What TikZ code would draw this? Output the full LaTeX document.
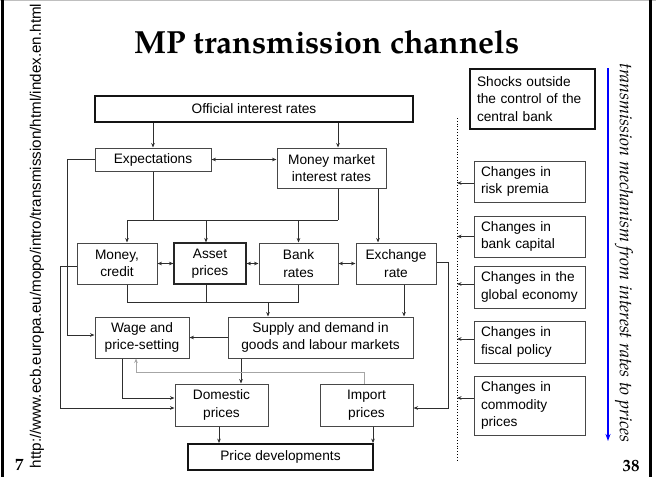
\documentclass[tikz,border=0pt]{standalone}
\usepackage{fontspec}
\setsansfont{Liberation Sans}
\newfontfamily\palfont{TeX Gyre Pagella}
\usetikzlibrary{arrows.meta}
\begin{document}
\begin{tikzpicture}[x=1pt,y=-1pt,
  box/.style={draw=black!72, line width=1pt, font=\sffamily\fontsize{13.7}{17.5}\selectfont, align=center, inner sep=0pt, fill=white},
  tbox/.style={box, draw=black!92, line width=1.8pt},
  rbox/.style={box, align=left, inner xsep=7pt},
  ln/.style={draw=black!82, line width=0.9pt},
  arr/.style={ln, -{Stealth[length=4.5pt,width=3.6pt]}},
  darr/.style={ln, {Stealth[length=4.5pt,width=3.6pt]}-{Stealth[length=4.5pt,width=3.6pt]}},
  arrg/.style={draw=black!35, line width=0.8pt, -{Stealth[length=4.5pt,width=3.6pt]}}]
\useasboundingbox (0,0) rectangle (656,477);
% frame
\draw[black!25, line width=0.6pt] (0,0.5) -- (656,0.5);
\draw[black, line width=3pt] (2,0) -- (2,477);
\draw[black, line width=3pt] (650.5,0) -- (650.5,477);
% title
\node[font=\palfont\bfseries\fontsize{32}{36}\selectfont] (title) at (327,42) {MP transmission channels};
% side texts
\node[rotate=90, font=\sffamily\fontsize{15.2}{16}\selectfont, inner sep=0pt] (url) at (37,236) {http://www.ecb.europa.eu/mopo/intro/transmission/html/index.en.html};
\node[font=\palfont\bfseries\fontsize{17}{18}\selectfont, inner sep=0pt] (pn) at (19.5,465) {7};
\node[font=\palfont\bfseries\fontsize{17}{18}\selectfont, inner sep=0pt] (pn2) at (631,466) {38};
\node[rotate=-90, font=\palfont\itshape\fontsize{18}{20}\selectfont, inner sep=0pt] (mech) at (624,253) {transmission mechanism from interest rates to prices};
% main boxes
\node[tbox, minimum width=318pt, minimum height=26pt] (off) at (254,109) {Official interest rates};
\node[box, minimum width=116pt, minimum height=23pt] (exp) at (153,159.5) {Expectations};
\node[box, minimum width=109pt, minimum height=40pt] (mm) at (331.5,168) {Money market\\interest rates};
\node[box, minimum width=80pt, minimum height=41pt] (money) at (117,263.5) {Money,\\credit};
\node[box, line width=1.2pt, draw=black!85, minimum width=72pt, minimum height=41pt] (asset) at (210,263.5) {Asset\\prices};
\node[box, minimum width=79pt, minimum height=41pt] (bank) at (298.5,263.5) {Bank\\rates};
\node[box, minimum width=80pt, minimum height=41pt] (exch) at (396,263.5) {Exchange\\rate};
\node[box, minimum width=94pt, minimum height=41pt] (wage) at (142,337.5) {Wage and\\price-setting};
\node[box, minimum width=185pt, minimum height=41pt] (supply) at (320.5,337.5) {Supply and demand in\\goods and labour markets};
\node[box, minimum width=93pt, minimum height=42pt] (dom) at (221.5,405) {Domestic\\prices};
\node[box, minimum width=93pt, minimum height=42pt] (imp) at (366.5,405) {Import\\prices};
\node[tbox, minimum width=185pt, minimum height=26pt] (price) at (280.5,457) {Price developments};
% right boxes
\node[rbox, tbox, align=left, inner xsep=7pt, text width=111pt, minimum height=60pt] (shocks) at (532.5,99) {Shocks outside\\the control of the\\central bank};
\node[rbox, text width=97pt, minimum height=41pt] (risk) at (529.5,181.5) {Changes in\\risk premia};
\node[rbox, text width=97pt, minimum height=41pt] (bcap) at (529.5,236.5) {Changes in\\bank capital};
\node[rbox, text width=97pt, minimum height=42pt] (glob) at (529.5,287) {Changes in the\\global economy};
\node[rbox, text width=97pt, minimum height=42pt] (fisc) at (529.5,342) {Changes in\\fiscal policy};
\node[rbox, text width=97pt, minimum height=59pt] (comm) at (529.5,405.5) {Changes in\\commodity\\prices};
% coordinates
\coordinate (b1L) at (127,220);
\coordinate (b1R) at (338,220);
\coordinate (b2L) at (127,302);
\coordinate (b2R) at (298.5,302);
\coordinate (gL) at (136,372);
\coordinate (dT) at (457,118);
\coordinate (dB) at (457,460);
\coordinate (bT) at (608,68);
\coordinate (bB) at (608,441);
% connectors top
\draw[arr] (exp.north |- off.south) -- (exp.north);
\draw[arr] ([xshift=6.5pt]mm.north |- off.south) -- ([xshift=6.5pt]mm.north);
\draw[darr] (exp.east) -- (exp.east -| mm.west);
\draw[ln] (exp.south) -- (exp.south |- b1L);
\draw[ln] ([xshift=6.5pt]mm.south) -- ([xshift=6.5pt]mm.south |- b1L);
\draw[ln] (b1L) -- (b1R);
\draw[arr] (b1L) -- (b1L |- money.north);
\draw[arr] ([xshift=-4pt]asset.north |- b1L) -- ([xshift=-4pt]asset.north);
\draw[arr] (bank.north |- b1L) -- (bank.north);
\draw[arr] ([xshift=-18pt]exch.north |- mm.south) -- ([xshift=-18pt]exch.north);
% channel row
\draw[darr] (money.east) -- (asset.west);
\draw[darr] (asset.east) -- (bank.west);
\draw[darr] (bank.east) -- (exch.west);
\draw[ln] ([xshift=10pt]money.south) -- (b2L) -- (b2R) -- (bank.south);
\draw[ln] ([xshift=-4pt]asset.south) -- ([xshift=-4pt]asset.south |- b2L);
\draw[arr] ([xshift=-52.5pt]supply.north |- b2L) -- ([xshift=-52.5pt]supply.north);
\draw[arr] ([xshift=8pt]exch.south) -- ([xshift=8pt]exch.south |- supply.north);
\draw[arr] ([yshift=1.5pt]exch.east) -| ([xshift=35pt,yshift=-3pt]imp.east) -- ([yshift=-3pt]imp.east);
% left feedbacks
\draw[arr] (exp.west) -| ([xshift=-27pt,yshift=2.5pt]wage.west) -- ([yshift=2.5pt]wage.west);
\draw[arr] ([yshift=-2.5pt]money.west) -| ([xshift=-114pt,yshift=-3pt]dom.west) -- ([yshift=-3pt]dom.west);
% lower part
\draw[arr] (supply.west) -- (supply.west -| wage.east);
\draw[arr] ([xshift=-79.5pt]supply.south) -- ([xshift=-79.5pt]supply.south |- dom.north);
\draw[arr] ([xshift=-20pt]wage.south) |- ([yshift=7pt]dom.west);
\draw[arrg] ([xshift=-2.5pt]imp.north) |- (gL) -- (gL |- wage.south);
\draw[arr] ([xshift=-2.5pt]dom.south) -- ([xshift=-2.5pt]dom.south |- price.north);
\draw[arr] ([xshift=6.5pt]imp.south) -- ([xshift=6.5pt]imp.south |- price.north);
% shocks
\draw[black, dotted, line width=0.8pt] (dT) -- (dB);
\draw[arr] ([yshift=-1.5pt]risk.west) -- ([yshift=-1.5pt]risk.west -| dT);
\draw[arr] (bcap.west) -- (bcap.west -| dT);
\draw[arr] ([yshift=3pt]glob.west) -- ([yshift=3pt]glob.west -| dT);
\draw[arr] ([yshift=3pt]fisc.west) -- ([yshift=3pt]fisc.west -| dT);
\draw[arr] ([yshift=7.5pt]comm.west) -- ([yshift=7.5pt]comm.west -| dT);
% blue arrow
\draw[blue, line width=1.2pt, -{Stealth[length=7pt,width=5pt]}] (bT) -- (bB);
\end{tikzpicture}
\end{document}
